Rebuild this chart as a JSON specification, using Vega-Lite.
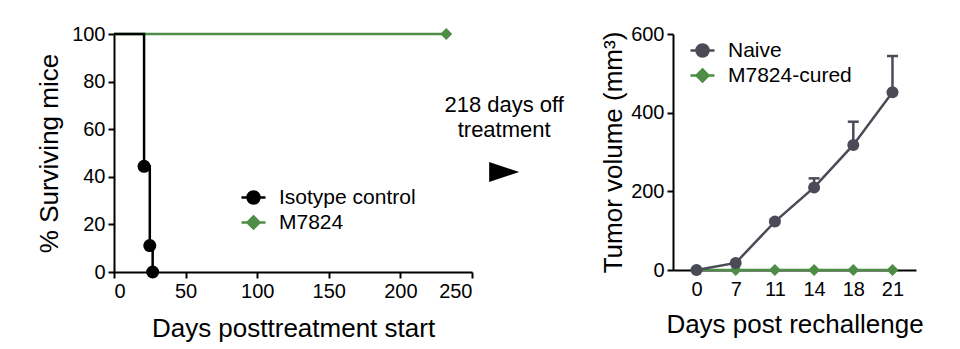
{
  "$schema": "https://vega.github.io/schema/vega-lite/v6.json",
  "background": "white",
  "padding": {"left": 36, "top": 24, "right": 5, "bottom": 5},
  "spacing": 0,
  "bounds": "flush",
  "resolve": {"scale": {"color": "independent", "x": "independent", "y": "independent"}, "legend": {"color": "independent"}},
  "config": {
    "view": {"stroke": null},
    "font": "Liberation Sans",
    "axis": {
      "domainColor": "black", "domainWidth": 2, "tickColor": "black", "tickWidth": 2, "tickSize": 6,
      "labelColor": "black", "labelFontSize": 20, "labelPadding": 3, "labelFont": "Liberation Sans",
      "titleFontSize": 26, "titleFontWeight": "normal", "titleColor": "black", "titleFont": "Liberation Sans",
      "grid": false
    },
    "legend": {"labelFontSize": 21, "labelColor": "black", "labelFont": "Liberation Sans"}
  },
  "hconcat": [
    {
      "width": 358,
      "height": 238,
      "data": {"values": [
        {"series": "M7824", "day": 0, "survival": 100, "event": false},
        {"series": "M7824", "day": 232, "survival": 100, "event": true},
        {"series": "Isotype control", "day": 0, "survival": 100, "event": false},
        {"series": "Isotype control", "day": 21, "survival": 44.4, "event": true},
        {"series": "Isotype control", "day": 25, "survival": 11.1, "event": true},
        {"series": "Isotype control", "day": 27, "survival": 0, "event": true}
      ]},
      "encoding": {
        "x": {"field": "day", "type": "quantitative", "scale": {"domain": [0, 250], "nice": false},
              "axis": {"values": [0, 50, 100, 150, 200, 250], "title": "Days posttreatment start", "titlePadding": 14}},
        "y": {"field": "survival", "type": "quantitative", "scale": {"domain": [0, 100], "nice": false},
              "axis": {"values": [0, 20, 40, 60, 80, 100], "title": "% Surviving mice", "titlePadding": 9}},
        "color": {"field": "series", "type": "nominal",
                  "scale": {"domain": ["Isotype control", "M7824"], "range": ["#000000", "#4e8d45"]},
                  "legend": {
                    "title": null, "orient": "none", "legendX": 126, "legendY": 150,
                    "symbolSize": 576, "labelOffset": 12, "rowPadding": 0,
                    "encode": {"symbols": {"update": {
                      "shape": {"signal": "datum.value === 'Isotype control' ? 'M-1,0H1M0.5,0A0.5,0.5,0,1,1,-0.5,0A0.5,0.5,0,1,1,0.5,0Z' : 'M-1,0H1M0,-0.5L0.5,0L0,0.5L-0.5,0Z'"},
                      "fill": {"signal": "datum.value === 'Isotype control' ? '#000000' : '#4e8d45'"},
                      "stroke": {"signal": "datum.value === 'Isotype control' ? '#000000' : '#4e8d45'"},
                      "strokeWidth": {"value": 2.5},
                      "size": {"value": 576},
                      "opacity": {"value": 1}
                    }}}
                  }}
      },
      "layer": [
        {"mark": {"type": "line", "interpolate": "step-after", "strokeWidth": 2.5}},
        {"transform": [{"filter": "datum.event && datum.series === 'M7824'"}],
         "mark": {"type": "point", "shape": "diamond", "filled": true, "opacity": 1, "size": 144}},
        {"transform": [{"filter": "datum.event && datum.series === 'Isotype control'"}],
         "mark": {"type": "point", "shape": "circle", "filled": true, "opacity": 1, "size": 169}}
      ]
    },
    {
      "width": 201,
      "height": 238,
      "data": {"values": [{"note": "218 days off treatment"}]},
      "layer": [
        {"mark": {"type": "text", "text": ["218 days off", "treatment"], "fontSize": 22, "lineHeight": 25,
                  "font": "Liberation Sans", "color": "black", "align": "center", "baseline": "middle"},
         "encoding": {
           "x": {"datum": 0.16, "type": "quantitative", "scale": {"domain": [0, 1]}, "axis": null},
           "y": {"datum": 70, "type": "quantitative", "scale": {"domain": [0, 100]}, "axis": null}
         }},
        {"mark": {"type": "point", "shape": "M-1,-0.67L1,0L-1,0.67Z", "filled": true, "color": "black", "opacity": 1, "size": 900},
         "encoding": {
           "x": {"datum": 0.16, "type": "quantitative", "scale": {"domain": [0, 1]}, "axis": null},
           "y": {"datum": 42, "type": "quantitative", "scale": {"domain": [0, 100]}, "axis": null}
         }}
      ]
    },
    {
      "width": 243,
      "height": 236,
      "data": {"values": [
        {"group": "M7824-cured", "day": 0, "volume": 0, "upper": 0},
        {"group": "M7824-cured", "day": 7, "volume": 0, "upper": 0},
        {"group": "M7824-cured", "day": 11, "volume": 0, "upper": 0},
        {"group": "M7824-cured", "day": 14, "volume": 0, "upper": 0},
        {"group": "M7824-cured", "day": 18, "volume": 0, "upper": 0},
        {"group": "M7824-cured", "day": 21, "volume": 0, "upper": 0},
        {"group": "Naive", "day": 0, "volume": 0, "upper": 0},
        {"group": "Naive", "day": 7, "volume": 18, "upper": 18},
        {"group": "Naive", "day": 11, "volume": 123, "upper": 128},
        {"group": "Naive", "day": 14, "volume": 210, "upper": 233},
        {"group": "Naive", "day": 18, "volume": 318, "upper": 377},
        {"group": "Naive", "day": 21, "volume": 452, "upper": 544}
      ]},
      "encoding": {
        "x": {"field": "day", "type": "ordinal", "scale": {"type": "point", "padding": 0.6},
              "axis": {"labelAngle": 0, "ticks": false, "labelPadding": 9, "title": "Days post rechallenge", "titlePadding": 12}}
      },
      "layer": [
        {"transform": [{"filter": "datum.group === 'Naive' && datum.upper > datum.volume"}],
         "mark": {"type": "rule", "strokeWidth": 2.5, "color": "#4b4b57"},
         "encoding": {
           "y": {"field": "volume", "type": "quantitative", "title": "Tumor volume (mm³)"},
           "y2": {"field": "upper"}
         }},
        {"transform": [{"filter": "datum.group === 'Naive' && datum.upper > datum.volume"}],
         "mark": {"type": "tick", "thickness": 2.5, "size": 11, "color": "#4b4b57", "opacity": 1},
         "encoding": {
           "y": {"field": "upper", "type": "quantitative", "title": "Tumor volume (mm³)"}
         }},
        {"mark": {"type": "line", "strokeWidth": 2.5},
         "encoding": {
           "y": {"field": "volume", "type": "quantitative", "title": "Tumor volume (mm³)",
                 "scale": {"domain": [0, 600], "nice": false},
                 "axis": {"values": [0, 200, 400, 600], "titlePadding": 4}},
           "color": {"field": "group", "type": "nominal",
                     "scale": {"domain": ["Naive", "M7824-cured"], "range": ["#4b4b57", "#4e8d45"]},
                     "legend": {
                       "title": null, "orient": "none", "legendX": 16, "legendY": 3,
                       "symbolSize": 576, "labelOffset": 12, "rowPadding": 0,
                       "encode": {"symbols": {"update": {
                         "shape": {"signal": "datum.value === 'Naive' ? 'M-1,0H1M0.5,0A0.5,0.5,0,1,1,-0.5,0A0.5,0.5,0,1,1,0.5,0Z' : 'M-1,0H1M0,-0.5L0.5,0L0,0.5L-0.5,0Z'"},
                         "fill": {"signal": "datum.value === 'Naive' ? '#4b4b57' : '#4e8d45'"},
                         "stroke": {"signal": "datum.value === 'Naive' ? '#4b4b57' : '#4e8d45'"},
                         "strokeWidth": {"value": 2.5},
                         "size": {"value": 576},
                         "opacity": {"value": 1}
                       }}}
                     }}
         }},
        {"transform": [{"filter": "datum.group === 'M7824-cured'"}],
         "mark": {"type": "point", "shape": "diamond", "filled": true, "opacity": 1, "size": 144},
         "encoding": {
           "y": {"field": "volume", "type": "quantitative", "title": "Tumor volume (mm³)"},
           "color": {"field": "group", "type": "nominal"}
         }},
        {"transform": [{"filter": "datum.group === 'Naive'"}],
         "mark": {"type": "point", "shape": "circle", "filled": true, "opacity": 1, "size": 144},
         "encoding": {
           "y": {"field": "volume", "type": "quantitative", "title": "Tumor volume (mm³)"},
           "color": {"field": "group", "type": "nominal"}
         }}
      ]
    }
  ]
}
